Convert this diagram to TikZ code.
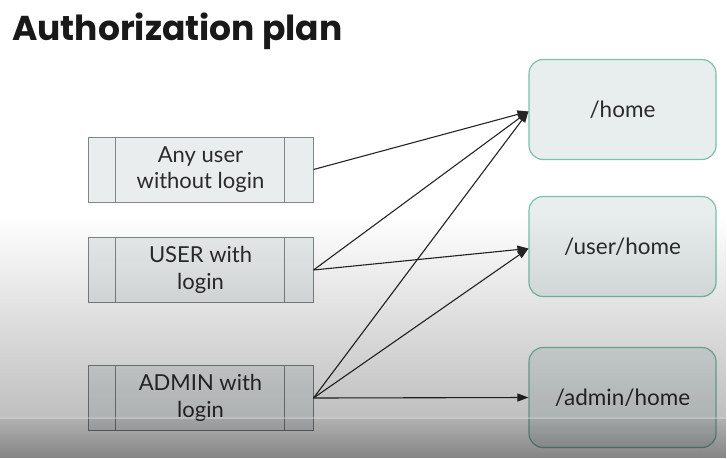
\documentclass[tikz,border=0pt]{standalone}
\usepackage{fontspec}
\setmainfont{Lato}
\newfontfamily\titlefont{Poppins}
\usetikzlibrary{arrows.meta,fadings}
\tikzfading[name=darkdown, top color=transparent!100, bottom color=transparent!75]
\tikzfading[name=darkbar, top color=transparent!70, bottom color=transparent!52]
\definecolor{lbfill}{HTML}{E9EDED}
\definecolor{lbdraw}{HTML}{808585}
\definecolor{rbfill}{HTML}{E8EEEE}
\definecolor{rbdraw}{HTML}{7DC0A8}
\definecolor{txt}{HTML}{2B2B2B}
\tikzset{
  rolebox/.style={draw=lbdraw, fill=lbfill, line width=1pt, minimum width=225pt, minimum height=65pt, inner sep=0pt, align=center, text=txt, font=\fontsize{22}{26.5}\selectfont},
  pagebox/.style={draw=rbdraw, fill=rbfill, line width=1.2pt, rounded corners=14pt, minimum width=187pt, minimum height=100pt, inner sep=0pt, text=txt, font=\fontsize{22.5}{26}\selectfont},
  link/.style={draw=black!85, line width=1.1pt, -{Triangle[length=11pt,width=8pt]}}
}
\begin{document}
\begin{tikzpicture}[x=1pt,y=-1pt]
\useasboundingbox (0,0) rectangle (727,458);
\fill[white] (0,0) rectangle (727,458);
\node[anchor=base west, font=\titlefont\bfseries\fontsize{34.5}{40}\selectfont, text=black!90, inner sep=0pt] (title) at (12,40) {Authorization plan};
% left role boxes
\node[rolebox] (any) at (200.5,169.5) {Any user\\without login};
\node[rolebox] (user) at (200.5,270) {USER with\\login};
\node[rolebox] (admin) at (200.5,398) {ADMIN with\\login};
\foreach \n in {any,user,admin}{
  \draw[lbdraw, line width=1pt] ([xshift=28pt]\n.north west) -- ([xshift=28pt]\n.south west);
  \draw[lbdraw, line width=1pt] ([xshift=-29pt]\n.north east) -- ([xshift=-29pt]\n.south east);
}
% right page boxes
\node[pagebox] (home) at (622.5,109.5) {/home};
\node[pagebox] (uhome) at (622.5,246.5) {/user/home};
\node[pagebox] (ahome) at (622.5,397.5) {/admin/home};
% connectors
\coordinate (h) at ([yshift=-2pt]home.west);
\coordinate (u) at ([yshift=-2pt]uhome.west);
\draw[link] (any.east) -- (h);
\draw[link] (user.east) -- (h);
\draw[link] (user.east) -- (u);
\draw[link] (admin.east) -- (h);
\draw[link] (admin.east) -- (u);
\draw[link] (admin.east) -- (ahome.west);
% video overlay gradient
\fill[black, path fading=darkdown] (0,215) rectangle (727,417);
\fill[black, path fading=darkbar] (0,417) rectangle (727,458);
\draw[white, opacity=0.3, line width=2pt] (0,418) -- (727,418);
\end{tikzpicture}
\end{document}
